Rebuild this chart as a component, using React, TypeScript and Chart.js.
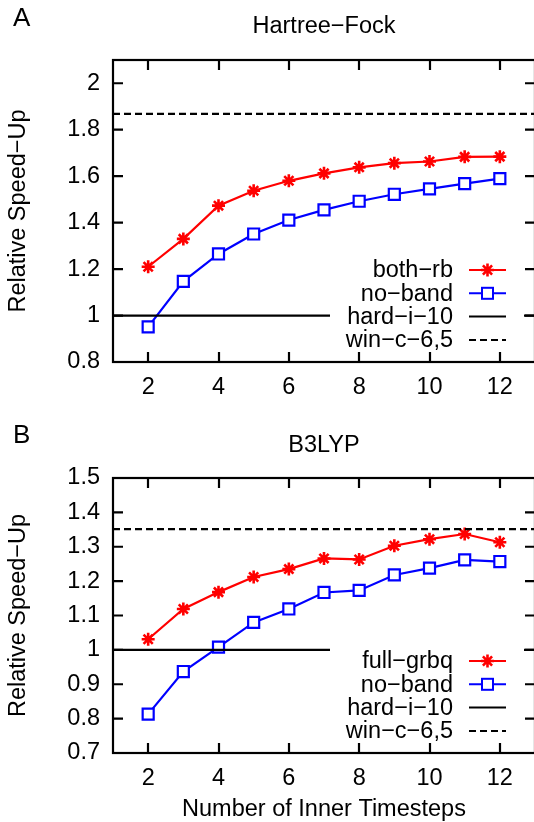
import React, { useEffect, useRef } from 'react';
import { Chart, registerables } from 'chart.js';

Chart.register(...registerables);

// ---------- data ----------
const innerTimesteps = [2, 3, 4, 5, 6, 7, 8, 9, 10, 11, 12];
const xTickValues = [2, 4, 6, 8, 10, 12];
const xRange = [1, 13];

// Panel A: Hartree-Fock
const hfBothRb = [1.21, 1.33, 1.473, 1.537, 1.58, 1.612, 1.638, 1.656, 1.663, 1.683, 1.684];
const hfNoBand = [0.951, 1.147, 1.265, 1.351, 1.411, 1.455, 1.492, 1.522, 1.545, 1.568, 1.589];
const hfHardI10 = 1.0;
const hfWinC65 = 1.868;
const hfYTicks = [0.8, 1, 1.2, 1.4, 1.6, 1.8, 2];
const hfYRange = [0.8, 2.1];

// Panel B: B3LYP
const b3FullGrbq = [1.031, 1.119, 1.168, 1.212, 1.235, 1.266, 1.263, 1.303, 1.322, 1.337, 1.313];
const b3NoBand = [0.813, 0.937, 1.008, 1.08, 1.119, 1.167, 1.173, 1.218, 1.238, 1.262, 1.257];
const b3HardI10 = 1.0;
const b3WinC65 = 1.351;
const b3YTicks = [0.7, 0.8, 0.9, 1, 1.1, 1.2, 1.3, 1.4, 1.5];
const b3YRange = [0.7, 1.5];

const yAxisTitle = 'Relative Speed\u2212Up';
const xAxisTitle = 'Number of Inner Timesteps';

// ---------- styles ----------
const FONT = '"Liberation Sans", Arial, Helvetica, sans-serif';
const FS = 23.5;
const RED = '#ff0000';
const BLUE = '#0000ff';
const BLACK = '#000000';
const DASH = [7, 4];
const CANVAS_W = 546;

type PanelSpec = {
  letter: string;
  title: string;
  primaryLabel: string;
  primary: number[];
  noBand: number[];
  hard: number;
  win: number;
  yTicks: number[];
  yRange: number[];
  canvasTop: number;
  canvasHeight: number;
  padTop: number;
  xAxisHeight: number;
  letterBaseline: number;
  titleBaseline: number;
  legendFirstRow: number;
  showXTitle: boolean;
  xTitleBaseline: number;
};

const panels: PanelSpec[] = [
  {
    letter: 'A',
    title: 'Hartree\u2212Fock',
    primaryLabel: 'both\u2212rb',
    primary: hfBothRb,
    noBand: hfNoBand,
    hard: hfHardI10,
    win: hfWinC65,
    yTicks: hfYTicks,
    yRange: hfYRange,
    canvasTop: 0,
    canvasHeight: 400,
    padTop: 60,
    xAxisHeight: 38,
    letterBaseline: 26,
    titleBaseline: 33,
    legendFirstRow: 270,
    showXTitle: false,
    xTitleBaseline: 0,
  },
  {
    letter: 'B',
    title: 'B3LYP',
    primaryLabel: 'full\u2212grbq',
    primary: b3FullGrbq,
    noBand: b3NoBand,
    hard: b3HardI10,
    win: b3WinC65,
    yTicks: b3YTicks,
    yRange: b3YRange,
    canvasTop: 400,
    canvasHeight: 422,
    padTop: 78,
    xAxisHeight: 69,
    letterBaseline: 43,
    titleBaseline: 52,
    legendFirstRow: 261,
    showXTitle: true,
    xTitleBaseline: 416,
  },
];

function drawStar(ctx: CanvasRenderingContext2D, x: number, y: number, r: number) {
  ctx.beginPath();
  ctx.moveTo(x - r, y);
  ctx.lineTo(x + r, y);
  ctx.moveTo(x, y - r);
  ctx.lineTo(x, y + r);
  const d = r * Math.SQRT1_2;
  ctx.moveTo(x - d, y - d);
  ctx.lineTo(x + d, y + d);
  ctx.moveTo(x - d, y + d);
  ctx.lineTo(x + d, y - d);
  ctx.stroke();
}

function makeDecor(spec: PanelSpec) {
  return {
    id: 'gnuplotDecor',
    afterDatasetsDraw(chart: any) {
      const ctx: CanvasRenderingContext2D = chart.ctx;
      const rowH = 23.3;
      const y0 = spec.legendFirstRow;
      ctx.save();
      ctx.fillStyle = '#ffffff';
      ctx.fillRect(330, y0 - 13, 194, rowH * 3 + 25);
      const entries = [
        { label: spec.primaryLabel, color: RED, marker: 'star', dash: [] as number[] },
        { label: 'no\u2212band', color: BLUE, marker: 'rect', dash: [] as number[] },
        { label: 'hard\u2212i\u221210', color: BLACK, marker: '', dash: [] as number[] },
        { label: 'win\u2212c\u22126,5', color: BLACK, marker: '', dash: DASH },
      ];
      ctx.font = `${FS}px ${FONT}`;
      ctx.textAlign = 'right';
      ctx.textBaseline = 'middle';
      entries.forEach((e, i) => {
        const y = y0 + i * rowH;
        ctx.fillStyle = BLACK;
        ctx.fillText(e.label, 453, y + 1);
        ctx.strokeStyle = e.color;
        ctx.lineWidth = 2;
        ctx.setLineDash(e.dash);
        ctx.beginPath();
        ctx.moveTo(469, y);
        ctx.lineTo(506, y);
        ctx.stroke();
        ctx.setLineDash([]);
        const mx = 487.5;
        if (e.marker === 'star') {
          ctx.lineWidth = 2.6;
          drawStar(ctx, mx, y, 6.5);
        } else if (e.marker === 'rect') {
          ctx.fillStyle = '#ffffff';
          ctx.fillRect(mx - 5.5, y - 5.5, 11, 11);
          ctx.strokeRect(mx - 5.5, y - 5.5, 11, 11);
        }
      });
      ctx.restore();
    },
    afterDraw(chart: any) {
      const ctx: CanvasRenderingContext2D = chart.ctx;
      const { left, right, top, bottom } = chart.chartArea;
      const xs = chart.scales.x;
      const ys = chart.scales.y;
      ctx.save();
      ctx.strokeStyle = BLACK;
      ctx.lineWidth = 2.2;
      ctx.setLineDash([]);
      ctx.strokeRect(left, top, right - left, bottom - top);
      ctx.beginPath();
      const tl = 10;
      xTickValues.forEach((v) => {
        const px = Math.round(xs.getPixelForValue(v));
        ctx.moveTo(px, bottom);
        ctx.lineTo(px, bottom - tl);
        ctx.moveTo(px, top);
        ctx.lineTo(px, top + tl);
      });
      spec.yTicks.forEach((v) => {
        const py = ys.getPixelForValue(v);
        ctx.moveTo(left, py);
        ctx.lineTo(left + tl, py);
        ctx.moveTo(right, py);
        ctx.lineTo(right - tl, py);
      });
      ctx.stroke();

      ctx.fillStyle = BLACK;
      ctx.textBaseline = 'alphabetic';
      ctx.textAlign = 'left';
      ctx.font = `26px ${FONT}`;
      ctx.fillText(spec.letter, 13, spec.letterBaseline);

      ctx.textAlign = 'center';
      ctx.font = `${FS}px ${FONT}`;
      ctx.fillText(spec.title, (left + right) / 2, spec.titleBaseline);

      if (spec.showXTitle) {
        ctx.fillText(xAxisTitle, (left + right) / 2, spec.xTitleBaseline);
      }

      ctx.translate(19, (top + bottom) / 2);
      ctx.rotate(-Math.PI / 2);
      ctx.textBaseline = 'middle';
      ctx.fillText(yAxisTitle, 0, 0);
      ctx.restore();
    },
  };
}

function Panel({ spec }: { spec: PanelSpec }) {
  const ref = useRef<HTMLCanvasElement>(null);
  useEffect(() => {
    const canvas = ref.current;
    if (!canvas) return;
    const chart = new Chart(canvas, {
      type: 'line',
      data: {
        datasets: [
          {
            label: spec.primaryLabel,
            data: innerTimesteps.map((x, i) => ({ x, y: spec.primary[i] })),
            borderColor: RED,
            backgroundColor: RED,
            borderWidth: 2.2,
            pointStyle: 'star',
            pointRadius: 6.5,
            pointBorderWidth: 2.6,
            pointBorderColor: RED,
            order: 3,
          },
          {
            label: 'no\u2212band',
            data: innerTimesteps.map((x, i) => ({ x, y: spec.noBand[i] })),
            borderColor: BLUE,
            backgroundColor: '#ffffff',
            borderWidth: 2.2,
            pointStyle: 'rect',
            pointRadius: 7.8,
            pointBorderWidth: 2.2,
            pointBorderColor: BLUE,
            pointBackgroundColor: '#ffffff',
            order: 2,
          },
          {
            label: 'hard\u2212i\u221210',
            data: xRange.map((x) => ({ x, y: spec.hard })),
            borderColor: BLACK,
            borderWidth: 2.2,
            pointRadius: 0,
            order: 1,
          },
          {
            label: 'win\u2212c\u22126,5',
            data: xRange.map((x) => ({ x, y: spec.win })),
            borderColor: BLACK,
            borderWidth: 2.2,
            borderDash: DASH,
            pointRadius: 0,
            order: 0,
          },
        ],
      },
      options: {
        animation: false,
        responsive: false,
        devicePixelRatio: 1,
        events: [],
        layout: { padding: { top: spec.padTop, left: 0, right: CANVAS_W - 535, bottom: 0 } },
        plugins: {
          legend: { display: false },
          tooltip: { enabled: false },
          title: { display: false },
        },
        scales: {
          x: {
            type: 'linear',
            min: xRange[0],
            max: xRange[1],
            grid: { display: false, drawTicks: false },
            border: { display: false },
            afterBuildTicks: (axis: any) => {
              axis.ticks = xTickValues.map((v) => ({ value: v }));
            },
            afterFit: (axis: any) => {
              axis.height = spec.xAxisHeight;
            },
            ticks: {
              padding: 11,
              color: BLACK,
              font: { family: FONT, size: FS },
              maxRotation: 0,
              autoSkip: false,
              callback: (v: any) => String(v),
            },
          },
          y: {
            type: 'linear',
            min: spec.yRange[0],
            max: spec.yRange[1],
            grid: { display: false, drawTicks: false },
            border: { display: false },
            afterBuildTicks: (axis: any) => {
              axis.ticks = spec.yTicks.map((v) => ({ value: v }));
            },
            afterFit: (axis: any) => {
              axis.width = 113;
            },
            ticks: {
              padding: 13,
              color: BLACK,
              font: { family: FONT, size: FS },
              autoSkip: false,
              callback: (v: any) => String(v),
            },
          },
        },
      },
      plugins: [makeDecor(spec)],
    } as any);
    return () => chart.destroy();
  }, [spec]);
  return (
    <canvas
      ref={ref}
      width={CANVAS_W}
      height={spec.canvasHeight}
      style={{ position: 'absolute', left: 0, top: spec.canvasTop, width: CANVAS_W, height: spec.canvasHeight }}
    />
  );
}

export default function App() {
  return (
    <div
      style={{
        position: 'absolute',
        left: 0,
        top: 0,
        width: 534,
        height: 822,
        overflow: 'hidden',
        background: '#ffffff',
      }}
    >
      {panels.map((p) => (
        <Panel key={p.letter} spec={p} />
      ))}
    </div>
  );
}
